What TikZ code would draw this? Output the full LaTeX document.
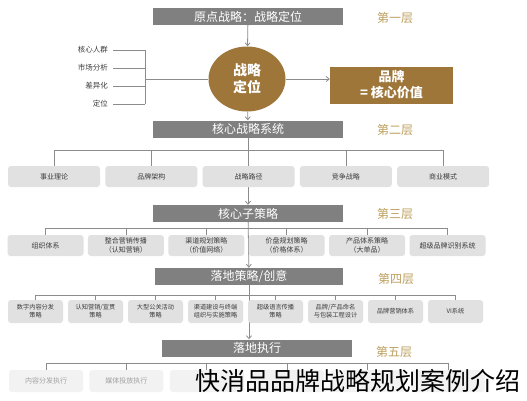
\documentclass[tikz,border=0pt]{standalone}
\usepackage{fontspec}
\setmainfont{Noto Sans CJK SC}
\usepackage{xcolor}
\usepackage{tikz}
\usetikzlibrary{positioning, arrows.meta, shapes.geometric, calc}

\definecolor{barGray}{RGB}{128,128,128}
\definecolor{brandBrown}{RGB}{158,118,58}
\definecolor{layerGold}{RGB}{190,160,95}
\definecolor{itemGray}{RGB}{225,225,225}
\definecolor{itemText}{RGB}{60,60,60}
\definecolor{fadeGray}{RGB}{242,242,242}
\definecolor{fadeText}{RGB}{160,160,160}
\definecolor{linkGray}{RGB}{140,140,140}

\begin{document}
\begin{tikzpicture}[x=1pt, y=-1pt,
    layer bar/.style={fill=barGray, text=white, minimum width=190pt, minimum height=17pt, inner sep=0pt, font=\fontsize{12}{12}\selectfont},
    layer tag/.style={text=layerGold, inner sep=0pt, font=\fontsize{12}{12}\selectfont},
    item/.style={fill=itemGray, text=itemText, rounded corners=3pt, inner sep=0pt, align=center},
    link/.style={draw=linkGray, line width=0.8pt},
    arrow/.style={link, -{Straight Barb[length=3pt, width=5pt]}}
]
\useasboundingbox[fill=white] (0,0) rectangle (527,400);

\node[layer bar] (bar1) at (248,16.5) {原点战略：战略定位};
\node[layer bar] (bar2) at (248,129) {核心战略系统};
\node[layer bar] (bar3) at (248,213.5) {核心子策略};
\node[layer bar, minimum width=188pt] (bar4) at (249,276.5) {落地策略/创意};
\node[layer bar] (bar5) at (257,348) {落地执行};

\node[layer tag] (tag1) at (395,18) {第一层};
\node[layer tag] (tag2) at (395,130) {第二层};
\node[layer tag] (tag3) at (395,214) {第三层};
\node[layer tag] (tag4) at (396,279) {第四层};
\node[layer tag] (tag5) at (394,352) {第五层};

\node[ellipse, fill=brandBrown, text=white, minimum width=77pt, minimum height=65pt, inner sep=0pt, align=center, font=\bfseries\fontsize{14}{17}\selectfont] (core) at (247,79) {战略\\定位};
\node[fill=brandBrown, text=white, minimum width=123pt, minimum height=37pt, align=center, font=\bfseries\fontsize{13}{16}\selectfont] (brand) at (391.5,85) {品牌\\= 核心价值};

\foreach \t [count=\i] in {核心人群, 市场分析, 差异化, 定位}
    \node[anchor=east, text=itemText, inner sep=0pt, font=\fontsize{7.5}{8}\selectfont] (k\i) at (108,32+18*\i) {\t};
\coordinate (spine) at (145,79);
\foreach \i in {1,...,4}
    \draw[link, shorten <=5pt] (k\i.east) -- (k\i.east -| spine);
\draw[link] (k1.east -| spine) -- (k4.east -| spine);
\draw[link] (spine) -- (core.west);

\draw[arrow] (bar1) -- (core);
\draw[arrow] (core.east) -- (core.east -| brand.west);
\draw[arrow] (core) -- (bar2);
\draw[arrow] (bar2) -- (bar3);
\draw[arrow] (bar3) -- (bar4);
\draw[arrow] (bar4.south) -- (bar4.south |- bar5.north);

\foreach \t [count=\i] in {事业理论, 品牌架构, 战略路径, 竞争战略, 商业模式}
    \node[item, minimum width=92pt, minimum height=21pt, font=\fontsize{7}{8}\selectfont] (b\i) at ({54+97.3*(\i-1)},176.5) {\t};
\draw[link] (b1.north) -- (b1.north |- 0,150) -- (b5.north |- 0,150) -- (b5.north);
\foreach \i in {2,3,4}
    \draw[link] (b\i.north) -- (b\i.north |- 0,150);

\foreach \t [count=\i] in {组织体系, {整合营销传播\\（认知营销）}, {渠道规划策略\\（价值网络）}, {价盘规划策略\\（价格体系）}, {产品体系策略\\（大单品）}, 超级品牌识别系统}
    \node[item, minimum width=76pt, minimum height=21pt, font=\fontsize{7}{9}\selectfont] (c\i) at ({45.5+80.4*(\i-1)},245.5) {\t};
\draw[link] (c1.north) -- (c1.north |- 0,228) -- (c6.north |- 0,228) -- (c6.north);
\foreach \i in {2,...,5}
    \draw[link] (c\i.north) -- (c\i.north |- 0,228);

\foreach \t [count=\i] in {{数字内容分发\\策略}, {认知营销/宣贯\\策略}, {大型公关活动\\策略}, {渠道建设与终端\\组织与实施策略}, {超级语言传播\\策略}, {品牌/产品命名\\与包装工程设计}, 品牌营销体系, VI系统}
    \node[item, minimum width=55pt, minimum height=23pt, font=\fontsize{6.2}{8}\selectfont] (d\i) at ({35.5+60*(\i-1)},311.5) {\t};
\draw[link] (d1.north) -- (d1.north |- 0,295) -- (d8.north |- 0,295) -- (d8.north);
\foreach \i in {2,...,7}
    \draw[link] (d\i.north) -- (d\i.north |- 0,295);

\foreach \t [count=\i] in {内容分发执行, 媒体投放执行, {}, {}, {}, {}}
    \node[item, fill=fadeGray, text=fadeText, minimum width=74pt, minimum height=22pt, font=\fontsize{7}{8}\selectfont] (e\i) at ({46+80.4*(\i-1)},381) {\t};
\draw[link] (e1.north) -- (e1.north |- 0,363) -- (e6.north |- 0,363) -- (e6.north);
\foreach \i in {2,...,5}
    \draw[link] (e\i.north) -- (e\i.north |- 0,363);

\node[anchor=west, inner sep=0pt, font=\fontsize{25}{25}\selectfont] (title) at (195,381) {快消品品牌战略规划案例介绍};

\end{tikzpicture}
\end{document}
